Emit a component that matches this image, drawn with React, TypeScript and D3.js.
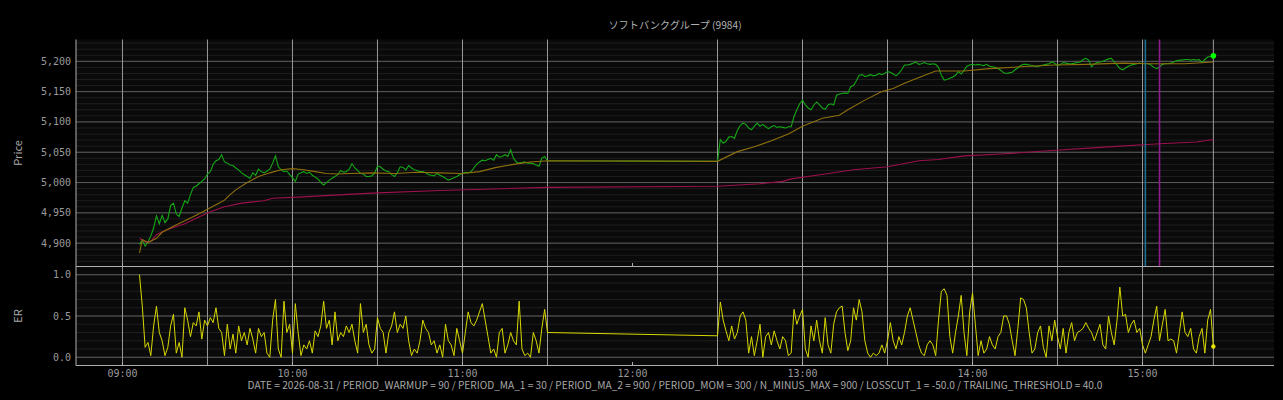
import * as d3 from "d3";

const WIDTH = 1283;
const HEIGHT = 400;
const PLOT = { left: 76, right: 1274 };
const PRICE_BOX = { top: 39.5, bottom: 266.5 };
const ER_BOX = { top: 266.5, bottom: 365.5 };

const TITLE = "ソフトバンクグループ (9984)";
const FOOTER =
  "DATE = 2026-08-31 / PERIOD_WARMUP = 90 / PERIOD_MA_1 = 30 / PERIOD_MA_2 = 900 / PERIOD_MOM = 300 / N_MINUS_MAX = 900 / LOSSCUT_1 = -50.0 / TRAILING_THRESHOLD = 40.0";

// one value per minute, starting at the session start
const AM_START = "09:06";
const PM_START = "12:30";

const priceAM = [
  4898, 4905, 4895, 4902, 4912, 4925, 4945, 4932, 4946, 4934,
  4940, 4962, 4966, 4948, 4944, 4958, 4970, 4966, 4980, 4992,
  4994, 4998, 5002, 5006, 5014, 5018, 5030, 5036, 5038, 5046,
  5034, 5032, 5029, 5028, 5024, 5021, 5016, 5013, 5010, 5007,
  5016, 5012, 5022, 5018, 5016, 5019, 5022, 5032, 5044, 5026,
  5021, 5018, 5019, 5013, 5008, 5002, 5014, 5016, 5018, 5015,
  5017, 5012, 5009, 5006, 5000, 4996, 5000, 5004, 5007, 5010,
  5013, 5020, 5017, 5018, 5022, 5031, 5024, 5020, 5015, 5014,
  5010, 5010, 5011, 5016, 5027, 5026, 5022, 5019, 5018, 5013,
  5010, 5016, 5026, 5025, 5021, 5028, 5024, 5021, 5020, 5018,
  5018, 5016, 5013, 5012, 5011, 5015, 5012, 5010, 5007, 5004,
  5006, 5008, 5010, 5013, 5015, 5017, 5016, 5018, 5024, 5030,
  5034, 5037, 5036, 5038, 5040, 5037, 5046, 5042, 5043, 5046,
  5043, 5054, 5040, 5034, 5032, 5033, 5034, 5032, 5032, 5031,
  5029, 5027, 5040, 5043, 5036,
];

const pricePM = [
  5035,
  5071, 5065, 5068, 5075, 5076, 5073, 5086, 5094, 5098, 5096,
  5090, 5087, 5093, 5098, 5093, 5096, 5092, 5089, 5092, 5094,
  5091, 5092, 5091, 5090, 5092, 5092, 5109, 5120, 5130, 5136,
  5128, 5123, 5120, 5128, 5133, 5128, 5123, 5121, 5128, 5130,
  5128, 5144, 5146, 5147, 5148, 5147, 5158, 5160, 5168, 5177,
  5178, 5175, 5176, 5178, 5176, 5177, 5180, 5178, 5180, 5183,
  5182, 5179, 5176, 5180, 5186, 5194, 5194, 5195, 5197, 5199,
  5195, 5196, 5198, 5196, 5195, 5196, 5195, 5190, 5177, 5169,
  5170, 5172, 5174, 5177, 5183, 5179, 5185, 5192, 5194, 5195,
  5194, 5195, 5194, 5193, 5195, 5192, 5191, 5190, 5188, 5185,
  5181, 5180, 5181, 5182, 5186, 5189, 5193, 5195, 5195, 5194,
  5193, 5192, 5191, 5193, 5194, 5195, 5196, 5199, 5197, 5193,
  5195, 5198, 5197, 5196, 5196, 5197, 5198, 5199, 5203, 5205,
  5202, 5191, 5196, 5198, 5199, 5200, 5202, 5204, 5205, 5199,
  5194, 5188, 5186, 5189, 5192, 5194, 5195, 5196, 5197, 5196,
  5196, 5196, 5194, 5190, 5188, 5191, 5195, 5196, 5196, 5197,
  5199, 5201, 5202, 5202, 5203, 5203, 5202, 5203, 5202, 5203,
  5198, 5203, 5207, 5208, 5209,
];

const erAM = [
  1.0, 0.62, 0.12, 0.18, 0.02, 0.38, 0.62, 0.3, 0.2, 0.02,
  0.12, 0.38, 0.52, 0.05, 0.18, 0.0, 0.6, 0.45, 0.25, 0.42,
  0.38, 0.55, 0.22, 0.45, 0.38, 0.48, 0.42, 0.6, 0.35, 0.3,
  0.02, 0.4, 0.1, 0.28, 0.05, 0.38, 0.2, 0.3, 0.15, 0.35,
  0.22, 0.05, 0.35, 0.25, 0.3, 0.05, 0.0, 0.45, 0.7, 0.1,
  0.0, 0.68, 0.3, 0.4, 0.05, 0.65, 0.3, 0.02, 0.15, 0.1,
  0.2, 0.05, 0.32, 0.25, 0.38, 0.68, 0.35, 0.45, 0.15, 0.55,
  0.2, 0.3, 0.25, 0.38, 0.3, 0.4, 0.2, 0.05, 0.65, 0.3,
  0.4, 0.15, 0.05, 0.1, 0.48, 0.35, 0.3, 0.05, 0.3, 0.38,
  0.55, 0.3, 0.4, 0.35, 0.5, 0.2, 0.02, 0.1, 0.05, 0.2,
  0.45, 0.35, 0.3, 0.15, 0.2, 0.05, 0.15, 0.0, 0.4, 0.2,
  0.15, 0.02, 0.35, 0.2, 0.05, 0.3, 0.55, 0.42, 0.38, 0.45,
  0.55, 0.65, 0.45, 0.25, 0.05, 0.1, 0.0, 0.3, 0.35, 0.05,
  0.15, 0.3, 0.2, 0.15, 0.68, 0.1, 0.02, 0.05, 0.0, 0.3,
  0.2, 0.05, 0.35, 0.58, 0.3,
];

const erPM = [
  0.26,
  0.67, 0.45, 0.32, 0.2, 0.38, 0.22, 0.3, 0.5, 0.55, 0.45,
  0.05, 0.25, 0.02, 0.2, 0.4, 0.0, 0.25, 0.3, 0.15, 0.32,
  0.2, 0.1, 0.25, 0.2, 0.02, 0.05, 0.58, 0.4, 0.5, 0.58,
  0.1, 0.0, 0.38, 0.2, 0.45, 0.2, 0.05, 0.48, 0.15, 0.05,
  0.4, 0.55, 0.6, 0.62, 0.3, 0.08, 0.2, 0.6, 0.45, 0.7,
  0.55, 0.2, 0.05, 0.0, 0.05, 0.02, 0.05, 0.15, 0.05, 0.2,
  0.42, 0.2, 0.1, 0.25, 0.15, 0.3, 0.5, 0.6, 0.45, 0.3,
  0.15, 0.05, 0.02, 0.15, 0.2, 0.15, 0.02, 0.45, 0.8, 0.83,
  0.75, 0.25, 0.05, 0.3, 0.5, 0.75, 0.3, 0.02, 0.55, 0.78,
  0.4, 0.02, 0.2, 0.05, 0.1, 0.25, 0.15, 0.1, 0.25, 0.3,
  0.5, 0.5, 0.4, 0.2, 0.02, 0.35, 0.72, 0.7, 0.6, 0.3,
  0.05, 0.1, 0.3, 0.38, 0.12, 0.0, 0.38, 0.2, 0.45, 0.25,
  0.1, 0.35, 0.05, 0.3, 0.42, 0.2, 0.3, 0.32, 0.35, 0.42,
  0.35, 0.3, 0.2, 0.3, 0.4, 0.15, 0.1, 0.5, 0.3, 0.15,
  0.45, 0.85, 0.5, 0.52, 0.3, 0.4, 0.45, 0.3, 0.35, 0.15,
  0.05, 0.15, 0.25, 0.45, 0.62, 0.2, 0.4, 0.58, 0.2, 0.22,
  0.2, 0.05, 0.3, 0.55, 0.3, 0.25, 0.35, 0.1, 0.05, 0.25,
  0.35, 0.05, 0.45, 0.58, 0.13,
];

const maFast: [string, number][] = [
  ["09:06", 4884], ["09:07", 4906], ["09:09", 4901], ["09:12", 4908],
  ["09:14", 4918], ["09:18", 4928], ["09:22", 4937], ["09:26", 4946],
  ["09:30", 4956], ["09:34", 4966], ["09:36", 4971], ["09:38", 4980],
  ["09:40", 4988], ["09:44", 5000], ["09:48", 5010], ["09:52", 5016],
  ["09:56", 5021], ["10:00", 5023], ["10:04", 5021], ["10:08", 5018],
  ["10:12", 5015], ["10:16", 5014], ["10:20", 5015], ["10:28", 5016],
  ["10:36", 5015], ["10:44", 5017], ["10:52", 5016], ["11:00", 5015],
  ["11:06", 5018], ["11:12", 5025], ["11:18", 5030], ["11:24", 5034],
  ["11:30", 5036], ["12:30", 5035], ["12:37", 5051], ["12:43", 5059],
  ["12:49", 5069], ["12:55", 5080], ["13:00", 5093], ["13:07", 5106],
  ["13:13", 5111], ["13:16", 5120], ["13:22", 5136], ["13:28", 5150],
  ["13:32", 5155], ["13:36", 5164], ["13:42", 5175], ["13:47", 5184],
  ["13:57", 5184], ["14:06", 5188], ["14:17", 5191], ["14:29", 5194],
  ["14:40", 5195], ["14:53", 5197], ["15:04", 5196], ["15:15", 5196],
  ["15:25", 5199],
];

const maSlow: [string, number][] = [
  ["09:06", 4908], ["09:08", 4902], ["09:10", 4903], ["09:12", 4914],
  ["09:15", 4921], ["09:18", 4926], ["09:22", 4932], ["09:26", 4941],
  ["09:31", 4952], ["09:36", 4960], ["09:42", 4966], ["09:50", 4970],
  ["09:53", 4974], ["10:02", 4976], ["10:18", 4980], ["10:30", 4983],
  ["10:52", 4987], ["11:30", 4992], ["12:30", 4994], ["12:45", 4998],
  ["12:53", 5002], ["12:56", 5006], ["13:05", 5012], ["13:18", 5021],
  ["13:30", 5026], ["13:41", 5036], ["13:48", 5038], ["13:57", 5044],
  ["14:10", 5047], ["14:28", 5053], ["14:45", 5058], ["15:06", 5064],
  ["15:19", 5067], ["15:25", 5071],
];

const GRID_TIMES = [
  "09:00", "09:30", "10:00", "10:30", "11:00", "11:30",
  "12:30", "13:00", "13:30", "14:00", "14:30", "15:00", "15:25",
];
const MARKERS = [
  { time: "15:01", color: "#1c6f8f" },
  { time: "15:06", color: "#8c1e8c" },
];
const PRICE_TICKS = [4900, 4950, 5000, 5050, 5100, 5150, 5200];
const ER_TICKS = [0, 0.5, 1.0];

const toDate = (hhmm: string, addMin = 0) => {
  const [h, m] = hhmm.split(":").map(Number);
  return new Date(2026, 7, 31, h, m + addMin);
};

type Pt = { t: Date; v: number };
const perMinute = (start: string, values: number[]): Pt[] =>
  values.map((v, i) => ({ t: toDate(start, i), v }));
const pairs = (rows: [string, number][]): Pt[] =>
  rows.map(([t, v]) => ({ t: toDate(t), v }));

const MONO = "'DejaVu Sans Mono', monospace";
const SANS = "'Noto Sans CJK JP', 'Noto Sans', sans-serif";

export default function App() {
  const x = d3
    .scaleTime()
    .domain([new Date(2026, 7, 31, 8, 43, 36), new Date(2026, 7, 31, 15, 46, 24)])
    .range([PLOT.left, PLOT.right]);
  const yP = d3.scaleLinear().domain([4861.5, 5236]).range([PRICE_BOX.bottom, PRICE_BOX.top]);
  const yE = d3.scaleLinear().domain([-0.1, 1.1]).range([ER_BOX.bottom, ER_BOX.top]);

  const price = [...perMinute(AM_START, priceAM), ...perMinute(PM_START, pricePM)];
  const er = [...perMinute(AM_START, erAM), ...perMinute(PM_START, erPM)];

  const lineP = d3.line<Pt>().x((d) => x(d.t)).y((d) => yP(d.v));
  const lineE = d3.line<Pt>().x((d) => x(d.t)).y((d) => yE(d.v));

  const priceMinor = d3.range(4870, 5240, 10);
  const erMinor = d3.range(-0.1, 1.11, 0.1);
  const hours = x.ticks(d3.timeHour.every(1)!);
  const fmt = d3.timeFormat("%H:%M");
  const lastP = price[price.length - 1];
  const lastE = er[er.length - 1];

  const grid = (box: { top: number; bottom: number }) =>
    GRID_TIMES.map((t) => (
      <line key={t} x1={x(toDate(t))} x2={x(toDate(t))} y1={box.top} y2={box.bottom} stroke="#9a9a9a" strokeWidth={1} />
    ));

  return (
    <div>
      <style>{"body{margin:0;background:#000}"}</style>
      <svg width={WIDTH} height={HEIGHT} style={{ display: "block", background: "#000" }}>
        <rect x={PLOT.left} y={PRICE_BOX.top} width={PLOT.right - PLOT.left} height={ER_BOX.bottom - PRICE_BOX.top} fill="#0a0a0a" />

        {/* price panel grid */}
        {priceMinor.map((v) => (
          <line key={v} x1={PLOT.left} x2={PLOT.right} y1={yP(v)} y2={yP(v)} stroke="#1e1e1e" />
        ))}
        {PRICE_TICKS.map((v) => (
          <line key={v} x1={PLOT.left} x2={PLOT.right} y1={yP(v)} y2={yP(v)} stroke="#5c5c5c" />
        ))}
        {grid(PRICE_BOX)}

        {/* ER panel grid */}
        {erMinor.map((v) => (
          <line key={v.toFixed(1)} x1={PLOT.left} x2={PLOT.right} y1={yE(v)} y2={yE(v)} stroke="#1e1e1e" />
        ))}
        {ER_TICKS.map((v) => (
          <line key={v} x1={PLOT.left} x2={PLOT.right} y1={yE(v)} y2={yE(v)} stroke="#5c5c5c" />
        ))}
        {grid(ER_BOX)}

        {/* price + moving averages */}
        <path d={lineP(price) ?? ""} fill="none" stroke="#14a814" strokeWidth={1.1} />
        <path d={lineP(pairs(maSlow)) ?? ""} fill="none" stroke="#9c104c" strokeWidth={1.1} />
        <path d={lineP(pairs(maFast)) ?? ""} fill="none" stroke="#8f700e" strokeWidth={1.1} />
        {MARKERS.map((m) => (
          <line key={m.time} x1={x(toDate(m.time))} x2={x(toDate(m.time))} y1={PRICE_BOX.top} y2={PRICE_BOX.bottom} stroke={m.color} strokeWidth={1.6} />
        ))}
        <circle cx={x(lastP.t)} cy={yP(lastP.v)} r={2.8} fill="#00ff00" />

        {/* ER */}
        <path d={lineE(er) ?? ""} fill="none" stroke="#d8d800" strokeWidth={1} />
        <circle cx={x(lastE.t)} cy={yE(lastE.v)} r={2.2} fill="#e6e600" />

        {/* spines and ticks */}
        <line x1={PLOT.left} x2={PLOT.left} y1={PRICE_BOX.top} y2={ER_BOX.bottom} stroke="#b0b0b0" />
        <line x1={PLOT.left} x2={PLOT.right} y1={PRICE_BOX.bottom} y2={PRICE_BOX.bottom} stroke="#b0b0b0" />
        <line x1={PLOT.left} x2={PLOT.right} y1={ER_BOX.bottom} y2={ER_BOX.bottom} stroke="#b0b0b0" />
        {hours.map((h) => (
          <g key={+h}>
            <line x1={x(h)} x2={x(h)} y1={PRICE_BOX.bottom} y2={PRICE_BOX.bottom - 3.5} stroke="#b0b0b0" />
            <line x1={x(h)} x2={x(h)} y1={ER_BOX.bottom} y2={ER_BOX.bottom - 3.5} stroke="#b0b0b0" />
            <text x={x(h)} y={377} textAnchor="middle" fontFamily={MONO} fontSize={10} fill="#9a9a9a">
              {fmt(h)}
            </text>
          </g>
        ))}
        {PRICE_TICKS.map((v) => (
          <text key={v} x={71} y={yP(v) + 3.5} textAnchor="end" fontFamily={MONO} fontSize={10} fill="#9a9a9a">
            {d3.format(",")(v)}
          </text>
        ))}
        {ER_TICKS.map((v) => (
          <text key={v} x={71} y={yE(v) + 3.5} textAnchor="end" fontFamily={MONO} fontSize={10} fill="#9a9a9a">
            {v.toFixed(1)}
          </text>
        ))}

        {/* labels */}
        <text transform={`translate(22,${(PRICE_BOX.top + PRICE_BOX.bottom) / 2}) rotate(-90)`} textAnchor="middle" fontFamily={SANS} fontSize={11} fill="#a8a8a8">
          Price
        </text>
        <text transform={`translate(22,${(ER_BOX.top + ER_BOX.bottom) / 2}) rotate(-90)`} textAnchor="middle" fontFamily={SANS} fontSize={11} fill="#a8a8a8">
          ER
        </text>
        <text x={(PLOT.left + PLOT.right) / 2} y={29} textAnchor="middle" fontFamily={SANS} fontSize={10.2} fill="#b0b0b0">
          {TITLE}
        </text>
        <text x={(PLOT.left + PLOT.right) / 2} y={389} textAnchor="middle" fontFamily={SANS} fontSize={10.15} fill="#a8a8a8">
          {FOOTER}
        </text>
      </svg>
    </div>
  );
}
